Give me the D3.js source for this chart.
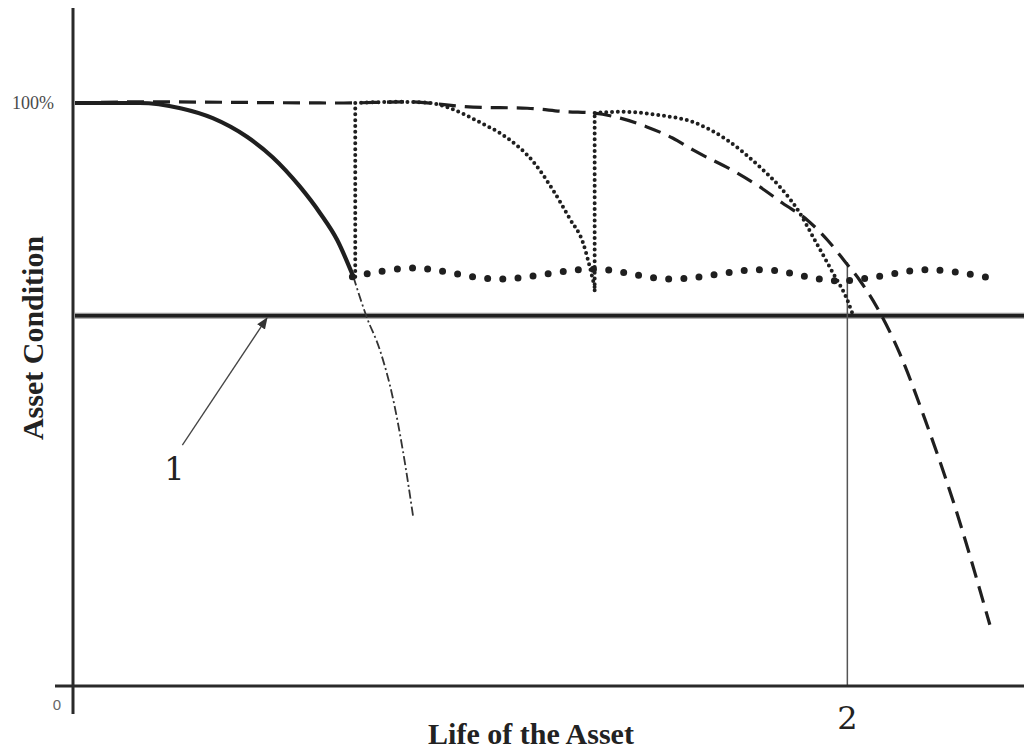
<!DOCTYPE html>
<html>
<head>
<meta charset="utf-8">
<script src="https://cdn.jsdelivr.net/npm/d3@7"></script>
<style>
  html, body { margin: 0; padding: 0; background: #fff; }
  svg { display: block; }
</style>
</head>
<body>
<svg id="chart" width="1024" height="749"></svg>
<script>
// ---- Data (x: life in arbitrary units 0..100, y: asset condition %) ----
const yTickLabels = ["0", "100%"];
const yTickValues = [0, 100];
const thresholdLevel = 63.5;           // minimum acceptable condition (label 1)
const endOfLifeX = 81.3;               // point 2 on the life axis
const endOfLifeTop = 72.7;

// original (unmaintained) deterioration, solid
const solidX = [0, 6.8, 11.1, 14.5, 18.1, 20.8, 23.7, 25.8, 27.6, 29.3];
const solidY = [100, 100, 99.1, 97.4, 94.2, 90.7, 85.6, 81.1, 76.5, 70.2];

// continuation if untreated, dash-dot
const dashDotX = [29.3, 30.7, 32.1, 33.5, 34.5, 35.6];
const dashDotY = [70.2, 63.3, 57.6, 49.1, 40.5, 29.0];

// overall deterioration envelope, long dashes
const envX = [0, 6.8, 28.2, 34.9, 41.9, 47.6, 51.8, 54.5, 57.4, 60.2, 62.9, 65.1, 69.7, 72.1, 74.5, 77.1, 79.2, 81.1, 82.6, 84.4, 86.8, 89.5, 92.4, 96.3];
const envY = [100, 100.2, 100, 100.2, 99.3, 99.1, 98.5, 98.3, 97.4, 95.9, 94.0, 91.9, 88.0, 85.6, 82.8, 79.9, 76.5, 72.7, 69.6, 65.0, 57.1, 45.6, 31.9, 10.5];

// deterioration after first treatment, small dots
const rehab1X = [29.5, 34.2, 37.4, 39.5, 42.6, 45.5, 48.2, 50.3, 52.1, 53.5, 54.2, 54.7];
const rehab1Y = [100, 100.2, 100, 99.1, 96.7, 94.0, 90.0, 85.1, 80.1, 75.9, 71.8, 68.4];

// deterioration after second treatment, small dots
const rehab2X = [54.7, 57.4, 61.6, 65.1, 68.6, 72.1, 74.2, 76.3, 77.7, 79.8, 81.3, 81.9];
const rehab2Y = [98.3, 98.5, 97.9, 96.7, 93.7, 89.0, 85.6, 81.1, 77.0, 70.8, 66.2, 63.6];

// treatment jumps (vertical dotted)
const jumpX = [29.5, 54.7];
const jumpLow = [70.2, 67.9];
const jumpHigh = [100, 98.3];

// maintained condition band, large dots
const bandX = [29.2, 35.6, 44.4, 54.7, 62.7, 72.4, 80.3, 89.9, 96.3];
const bandY = [70.2, 71.7, 69.8, 71.5, 69.8, 71.4, 69.5, 71.4, 70.0];

// annotation arrow (label 1)
const arrowFrom = [11.3, 41.3];
const arrowTo = [20.2, 63.1];

// ---- Drawing ----
const svg = d3.select("#chart");
const x = d3.scaleLinear().domain([0, 100]).range([75, 1025]);
const y = d3.scaleLinear().domain([0, 100]).range([686, 103]);
const ink = "#1f1f1f";

const zip = (xs, ys) => xs.map((v, i) => [v, ys[i]]);
const smooth = d3.line().x(d => x(d[0])).y(d => y(d[1])).curve(d3.curveMonotoneX);
const wave = d3.line().x(d => x(d[0])).y(d => y(d[1])).curve(d3.curveCatmullRom.alpha(0.5));

svg.append("defs").append("marker")
  .attr("id", "arr").attr("viewBox", "0 0 10 10").attr("refX", 9).attr("refY", 5)
  .attr("markerWidth", 9).attr("markerHeight", 9).attr("orient", "auto")
  .append("path").attr("d", "M0,1 L10,5 L0,9 Z").attr("fill", "#333");

// threshold line
svg.append("line")
  .attr("x1", x(0)).attr("x2", 1024)
  .attr("y1", y(thresholdLevel)).attr("y2", y(thresholdLevel))
  .attr("stroke", "#999").attr("stroke-width", 6);
svg.append("line")
  .attr("x1", x(0)).attr("x2", 1024)
  .attr("y1", y(thresholdLevel)).attr("y2", y(thresholdLevel))
  .attr("stroke", ink).attr("stroke-width", 3.5);

// end of life vertical
svg.append("line")
  .attr("x1", x(endOfLifeX)).attr("x2", x(endOfLifeX))
  .attr("y1", y(endOfLifeTop)).attr("y2", y(0))
  .attr("stroke", "#555").attr("stroke-width", 1.5);

// envelope dashed
svg.append("path").datum(zip(envX, envY)).attr("d", smooth)
  .attr("fill", "none").attr("stroke", ink).attr("stroke-width", 3.2)
  .attr("stroke-dasharray", "17 9");

// solid initial curve
svg.append("path").datum(zip(solidX, solidY)).attr("d", smooth)
  .attr("fill", "none").attr("stroke", ink).attr("stroke-width", 4.2);

// dash-dot continuation
svg.append("path").datum(zip(dashDotX, dashDotY)).attr("d", smooth)
  .attr("fill", "none").attr("stroke", "#333").attr("stroke-width", 1.8)
  .attr("stroke-dasharray", "9 3 2 3");

// rehab curves
[zip(rehab1X, rehab1Y), zip(rehab2X, rehab2Y)].forEach(pts => {
  svg.append("path").datum(pts).attr("d", smooth)
    .attr("fill", "none").attr("stroke", ink).attr("stroke-width", 4)
    .attr("stroke-linecap", "round").attr("stroke-dasharray", "0 5.8");
});

// vertical jumps
svg.selectAll(".jump").data(jumpX).enter().append("line")
  .attr("x1", d => x(d)).attr("x2", d => x(d))
  .attr("y1", (d, i) => y(jumpLow[i])).attr("y2", (d, i) => y(jumpHigh[i]))
  .attr("stroke", ink).attr("stroke-width", 4)
  .attr("stroke-linecap", "round").attr("stroke-dasharray", "0 5.8");

// large-dot band
svg.append("path").datum(zip(bandX, bandY)).attr("d", wave)
  .attr("fill", "none").attr("stroke", ink).attr("stroke-width", 7)
  .attr("stroke-linecap", "round").attr("stroke-dasharray", "0 15.2");

// axes
svg.append("line").attr("x1", 73).attr("x2", 73).attr("y1", 8).attr("y2", 714)
  .attr("stroke", "#2a2a2a").attr("stroke-width", 3);
svg.append("line").attr("x1", 55).attr("x2", 1024).attr("y1", y(0)).attr("y2", y(0))
  .attr("stroke", "#2a2a2a").attr("stroke-width", 3);

// tick labels
svg.append("text").attr("x", 54).attr("y", y(yTickValues[1]) + 6)
  .attr("text-anchor", "end").attr("font-family", "Liberation Serif")
  .attr("font-size", 18).attr("fill", "#4a4a4a").text(yTickLabels[1]);
svg.append("text").attr("x", 57).attr("y", y(yTickValues[0]) + 24)
  .attr("text-anchor", "middle").attr("font-family", "Liberation Sans")
  .attr("font-size", 15).attr("fill", "#666").text(yTickLabels[0]);

// axis titles
svg.append("text").attr("transform", "translate(43,338) rotate(-90)")
  .attr("text-anchor", "middle").attr("font-family", "Liberation Serif")
  .attr("font-weight", "bold").attr("font-size", 30).attr("fill", "#222")
  .text("Asset Condition");
svg.append("text").attr("x", 531).attr("y", 744)
  .attr("text-anchor", "middle").attr("font-family", "Liberation Serif")
  .attr("font-weight", "bold").attr("font-size", 30).attr("fill", "#222")
  .text("Life of the Asset");

// annotations
svg.append("line")
  .attr("x1", x(arrowFrom[0])).attr("y1", y(arrowFrom[1]))
  .attr("x2", x(arrowTo[0])).attr("y2", y(arrowTo[1]))
  .attr("stroke", "#444").attr("stroke-width", 1.3).attr("marker-end", "url(#arr)");
svg.append("text").attr("x", x(arrowFrom[0]) - 8).attr("y", 480)
  .attr("text-anchor", "middle").attr("font-family", "DejaVu Serif")
  .attr("font-size", 32).attr("fill", "#222").text("1");
svg.append("text").attr("x", x(endOfLifeX)).attr("y", 729)
  .attr("text-anchor", "middle").attr("font-family", "DejaVu Serif")
  .attr("font-size", 32).attr("fill", "#222").text("2");
</script>
</body>
</html>
